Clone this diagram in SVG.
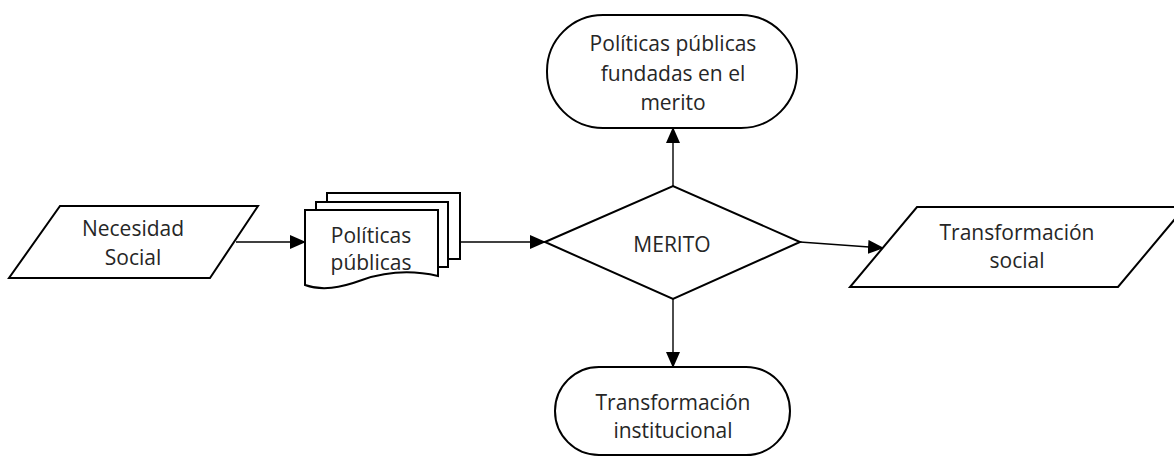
<svg xmlns="http://www.w3.org/2000/svg" width="1174" height="460" viewBox="0 0 1174 460">
<style>
.s{fill:#fff;stroke:#000;stroke-width:2;stroke-linejoin:miter}
.t{font-family:"Open Sans","Liberation Sans",sans-serif;font-size:21px;fill:#262626;text-anchor:middle}
.c{fill:none;stroke:#000;stroke-width:1.4}
</style>
<defs>
<marker id="ah" markerWidth="16" markerHeight="14" refX="15" refY="7" orient="auto" markerUnits="userSpaceOnUse">
<path d="M0,0 L16,7 L0,14 Z" fill="#000"/>
</marker>
</defs>
<rect width="1174" height="460" fill="#fff"/>
<g id="connectors">
<line class="c" x1="236" y1="242" x2="305" y2="242" marker-end="url(#ah)"/>
<line class="c" x1="460" y1="242" x2="545" y2="242" marker-end="url(#ah)"/>
<line class="c" x1="673" y1="186" x2="673" y2="128" marker-end="url(#ah)"/>
<line class="c" x1="673" y1="299" x2="673" y2="367" marker-end="url(#ah)"/>
<line class="c" x1="800" y1="242" x2="883" y2="248" marker-end="url(#ah)"/>
</g>
<g id="necesidad">
<path class="s" d="M60,206 H258 L210,278 H9 Z"/>
<text class="t" x="133" y="236">Necesidad</text>
<text class="t" x="133" y="265">Social</text>
</g>
<g id="politicas">
<path class="s" d="M327,193 H460 V259 H327 Z"/>
<path class="s" d="M316,202 H448 V267 H316 Z"/>
<path class="s" d="M305,210 H438 V276 C412,270 385,272 362,280 C340,288 322,291 305,285 Z"/>
<text class="t" x="371" y="243">Políticas</text>
<text class="t" x="371" y="270">públicas</text>
</g>
<g id="merito">
<path class="s" d="M545,242 L673,186 L800,242 L673,299 Z"/>
<text class="t" x="672" y="252">MERITO</text>
</g>
<g id="fundadas">
<rect class="s" x="547" y="15" width="250" height="113" rx="56" ry="56"/>
<text class="t" x="673" y="51">Políticas públicas</text>
<text class="t" x="673" y="81">fundadas en el</text>
<text class="t" x="673" y="110">merito</text>
</g>
<g id="institucional">
<rect class="s" x="555" y="367" width="235" height="88" rx="44" ry="44"/>
<text class="t" x="673" y="410">Transformación</text>
<text class="t" x="673" y="438">institucional</text>
</g>
<g id="social">
<path class="s" d="M917,207 H1185 L1118,287 H850 Z"/>
<text class="t" x="1017" y="240">Transformación</text>
<text class="t" x="1017" y="268">social</text>
</g>
</svg>
